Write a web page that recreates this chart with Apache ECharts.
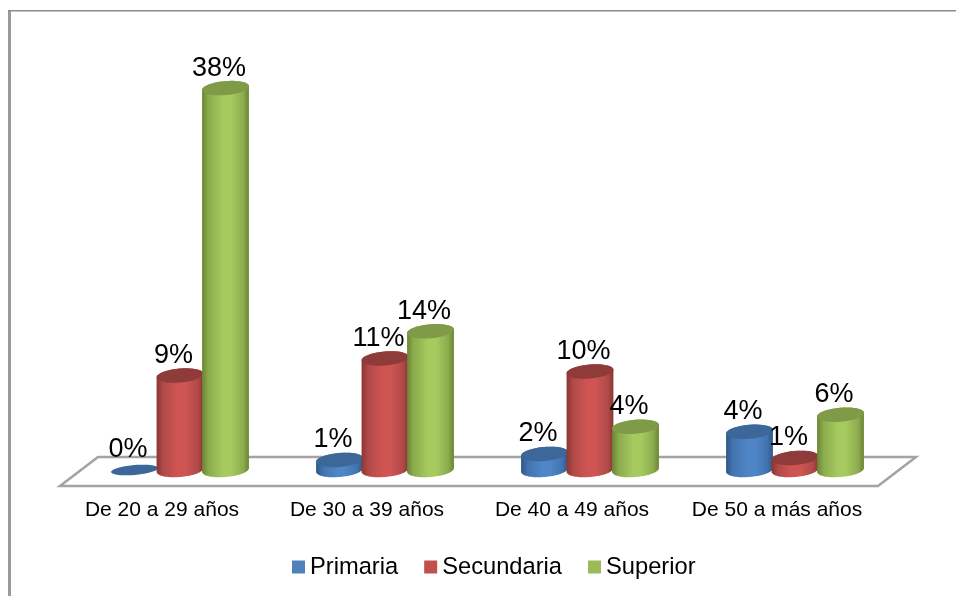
<!DOCTYPE html>
<html>
<head>
<meta charset="utf-8">
<style>html,body{margin:0;padding:0;background:#fff}#c{width:956px;height:596px}</style>
<script src="https://cdn.jsdelivr.net/npm/echarts@6/dist/echarts.min.js"></script>
</head>
<body>
<div id="c"></div>
<script>
var categories = ['De 20 a 29 años', 'De 30 a 39 años', 'De 40 a 49 años', 'De 50 a más años'];
var primaria = [0, 1.0, 1.6, 3.8];
var secundaria = [9.4, 11.1, 9.8, 1.2];
var superior = [38, 13.8, 4.3, 5.5];
var seriesNames = ['Primaria', 'Secundaria', 'Superior'];
var legendColors = ['#4f81bd', '#c0504d', '#9bbb59'];
var palettes = [
  { edge: '#2f5787', soft: '#4273ad', mid: '#4f86c8', top: '#3d6798' },
  { edge: '#8a3533', soft: '#b04a48', mid: '#cf5553', top: '#8e3b39' },
  { edge: '#6a8433', soft: '#8cab4e', mid: '#a6ca5e', top: '#7f9b48' }
];

var chart = echarts.init(document.getElementById('c'), null, { renderer: 'canvas' });
var BAR_RATIO = 47 / 205, STEP_RATIO = 45.5 / 205, RY = 7, TILT = -5 * Math.PI / 180;

function ellipsePoint(cx, cy, rx, ry, t) {
  var x = rx * Math.cos(t), y = ry * Math.sin(t);
  return [cx + x * Math.cos(TILT) - y * Math.sin(TILT), cy + x * Math.sin(TILT) + y * Math.cos(TILT)];
}
function ellipse(cx, cy, rx, ry, from, to) {
  var pts = [], n = 40;
  for (var i = 0; i <= n; i++) pts.push(ellipsePoint(cx, cy, rx, ry, from + (to - from) * i / n));
  return pts;
}

function cylinder(sIdx) {
  return function (params, api) {
    var band = api.size([1, 0])[0];
    var val = api.value(1);
    var base = api.coord([api.value(0), 0]);
    var top = api.coord([api.value(0), val]);
    var cx = base[0] + (sIdx - 1) * band * STEP_RATIO;
    var rx = band * BAR_RATIO / 2;
    var p = palettes[sIdx];
    var children = [];
    if (val > 0) {
      var bodyPts = ellipse(cx, base[1], rx, RY, 0, Math.PI).concat(ellipse(cx, top[1], rx, RY, Math.PI, 2 * Math.PI));
      children.push({
        type: 'polygon',
        shape: { points: bodyPts },
        style: {
          fill: new echarts.graphic.LinearGradient(0, 0, 1, 0, [
            { offset: 0, color: p.edge },
            { offset: 0.14, color: p.soft },
            { offset: 0.45, color: p.mid },
            { offset: 0.62, color: p.mid },
            { offset: 0.88, color: p.soft },
            { offset: 1, color: p.edge }
          ])
        }
      });
    }
    children.push({
      type: 'polygon',
      shape: { points: ellipse(cx, top[1], rx, val > 0 ? RY : RY - 2, 0, 2 * Math.PI) },
      style: { fill: p.top }
    });
    children.push({
      type: 'text',
      z2: 100,
      style: {
        x: cx - 6.5,
        y: top[1] - 20,
        text: Math.round(val) + '%',
        align: 'center',
        verticalAlign: 'middle',
        fill: '#000',
        font: '27px "Liberation Sans", Arial, sans-serif'
      }
    });
    return { type: 'group', children: children };
  };
}

function makeSeries(name, values, idx) {
  return {
    name: name,
    type: 'custom',
    coordinateSystem: 'cartesian2d',
    renderItem: cylinder(idx),
    itemStyle: { color: legendColors[idx] },
    encode: { x: 0, y: 1 },
    clip: false,
    animation: false,
    data: values.map(function (v, i) { return [i, v]; })
  };
}

chart.setOption({
  animation: false,
  backgroundColor: '#fff',
  grid: { left: 77.5, width: 820, top: 68, height: 402, containLabel: false },
  xAxis: {
    type: 'category',
    data: categories,
    axisLine: { show: false },
    axisTick: { show: false },
    splitLine: { show: false },
    axisLabel: {
      interval: 0,
      margin: 30,
      padding: [0, 36, 0, 0],
      fontFamily: '"Liberation Sans", Arial, sans-serif',
      fontSize: 21,
      color: '#000'
    }
  },
  yAxis: { type: 'value', min: 0, max: 40, show: false },
  legend: {
    left: 287,
    top: 550,
    padding: 5,
    itemWidth: 13,
    itemHeight: 13,
    itemGap: 26,
    icon: 'rect',
    textStyle: {
      fontFamily: '"Liberation Sans", Arial, sans-serif',
      fontSize: 23.7,
      color: '#000',
      padding: [0, 0, 0, 0]
    },
    data: seriesNames
  },
  graphic: [
    { type: 'rect', shape: { x: 8, y: 10, width: 3, height: 586 }, style: { fill: '#9a9a9a' }, silent: true },
    { type: 'rect', shape: { x: 8, y: 10, width: 948, height: 1.5 }, style: { fill: '#8c8c8c' }, silent: true },
    {
      type: 'polygon',
      shape: { points: [[98, 457], [916, 457], [878, 486], [60, 486]] },
      style: { fill: '#fff', stroke: '#a3a3a3', lineWidth: 2.5 },
      silent: true
    }
  ],
  series: [
    makeSeries(seriesNames[0], primaria, 0),
    makeSeries(seriesNames[1], secundaria, 1),
    makeSeries(seriesNames[2], superior, 2)
  ]
});
</script>
</body>
</html>
